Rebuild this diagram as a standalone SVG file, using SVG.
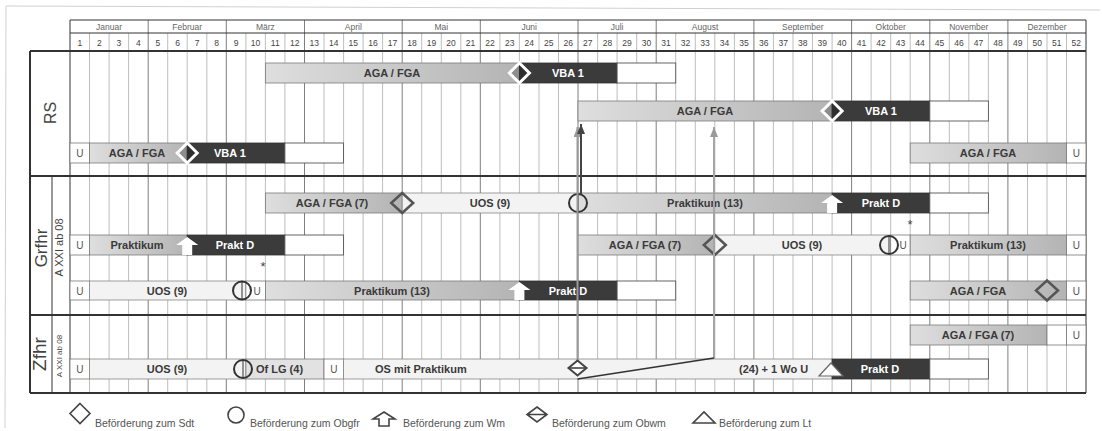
<svg xmlns="http://www.w3.org/2000/svg" width="1102" height="431" viewBox="0 0 1102 431">
<style>
text{font-family:"Liberation Sans",Arial,sans-serif}
.mo{font-size:8.5px;fill:#666;text-anchor:middle}
.wk{font-size:8.5px;fill:#444;text-anchor:middle}
.bt{font-size:11px;font-weight:bold;fill:#3a3a3a;text-anchor:middle}
.wt{font-size:11px;font-weight:bold;fill:#fff;text-anchor:middle}
.u{font-size:10px;fill:#555;text-anchor:middle}
.ast{font-size:13px;fill:#444;text-anchor:middle}
.lg{font-size:10.5px;fill:#555}
.sec{fill:#444;text-anchor:middle}
.lb{fill:url(#gl);stroke:#7a7a7a;stroke-width:.8}
.db{fill:#3b3b3b;stroke:#333;stroke-width:.8}
.wb{fill:#fff;stroke:#555;stroke-width:.9}
.vb{fill:#f3f3f3;stroke:#888;stroke-width:.8}
.ub{fill:#fff;stroke:#777;stroke-width:.8}
.grid{stroke:#a2a2a2;stroke-width:.7;fill:none}
.mgrid{stroke:#707070;stroke-width:.9;fill:none}
.frame{stroke:#333;fill:none}
.dw{fill:rgba(0,0,0,.22);stroke:#fff;stroke-width:3}
.dd{fill:none;stroke:#555;stroke-width:2.5}
.ci{fill:none;stroke:#333;stroke-width:2}
.upw{fill:#fff}
.icon{fill:#fff;stroke:#444;stroke-width:1.6}
</style>
<defs>
<linearGradient id="gl" x1="0" y1="0" x2="1" y2="0">
<stop offset="0" stop-color="#dedede"/>
<stop offset="1" stop-color="#b4b4b4"/>
</linearGradient>
<path id="dia" d="M0,-10 L10,0 L0,10 L-10,0 Z"/>
<path id="dia2" d="M0,-10 L11,0 L0,10 L-11,0 Z"/>
<g id="circ"><circle r="9" class="ci"/><path d="M0,-9 V9" stroke="#333" stroke-width="1"/></g>
<polygon id="up" points="0,2 11,10 5,10 5,20 -5,20 -5,10 -11,10"/>
<marker id="ag" viewBox="0 0 10 8" refX="10" refY="4" markerWidth="10" markerHeight="8" orient="auto" markerUnits="userSpaceOnUse"><path d="M0,0 L10,4 L0,8 z" fill="#9a9a9a"/></marker>
<marker id="ad" viewBox="0 0 10 8" refX="10" refY="4" markerWidth="10" markerHeight="8" orient="auto" markerUnits="userSpaceOnUse"><path d="M0,0 L10,4 L0,8 z" fill="#444"/></marker>
</defs>
<rect width="1102" height="431" fill="#fff"/>
<path d="M1100,10 L6,6 L5,428" stroke="#d0d0d0" stroke-width="1" fill="none"/>

<g id="grid">
<path class="grid" d="M89.5,33V393M109.1,33V393M128.6,33V393M167.7,33V393M187.2,33V393M206.8,33V393M245.9,33V393M265.4,33V393M284.9,33V393M324,33V393M343.6,33V393M363.1,33V393M382.6,33V393M421.7,33V393M441.3,33V393M460.8,33V393M499.9,33V393M519.4,33V393M539,33V393M558.5,33V393M597.6,33V393M617.1,33V393M636.7,33V393M675.7,33V393M695.3,33V393M714.8,33V393M734.4,33V393M773.4,33V393M793,33V393M812.5,33V393M832.1,33V393M871.1,33V393M890.7,33V393M910.2,33V393M949.3,33V393M968.8,33V393M988.4,33V393M1027.5,33V393M1047,33V393M1066.5,33V393"/>
<path class="mgrid" d="M148.2,20V393M226.3,20V393M304.5,20V393M402.2,20V393M480.3,20V393M578,20V393M656.2,20V393M753.9,20V393M851.6,20V393M929.8,20V393M1007.9,20V393"/>
<path class="frame" stroke-width="1" d="M70,20H1086M70,33H1086M70,20V393M1086,20V393M52,176V393"/>
<path class="frame" stroke-width="2" d="M30,51H1086M30,176H1086M30,315H1086M30,393H1086M30,51V393"/>
</g>

<g id="header">
<text class="mo" x="109.1" y="29.5">Januar</text>
<text class="mo" x="187.2" y="29.5">Februar</text>
<text class="mo" x="265.4" y="29.5">März</text>
<text class="mo" x="353.3" y="29.5">April</text>
<text class="mo" x="441.3" y="29.5">Mai</text>
<text class="mo" x="529.2" y="29.5">Juni</text>
<text class="mo" x="617.1" y="29.5">Juli</text>
<text class="mo" x="705.1" y="29.5">August</text>
<text class="mo" x="802.8" y="29.5">September</text>
<text class="mo" x="890.7" y="29.5">Oktober</text>
<text class="mo" x="968.8" y="29.5">November</text>
<text class="mo" x="1047" y="29.5">Dezember</text>
<g class="wk">
<text x="79.8" y="45.5">1</text><text x="99.3" y="45.5">2</text><text x="118.8" y="45.5">3</text><text x="138.4" y="45.5">4</text>
<text x="157.9" y="45.5">5</text><text x="177.5" y="45.5">6</text><text x="197" y="45.5">7</text><text x="216.6" y="45.5">8</text>
<text x="236.1" y="45.5">9</text><text x="255.6" y="45.5">10</text><text x="275.2" y="45.5">11</text><text x="294.7" y="45.5">12</text>
<text x="314.3" y="45.5">13</text><text x="333.8" y="45.5">14</text><text x="353.3" y="45.5">15</text><text x="372.9" y="45.5">16</text>
<text x="392.4" y="45.5">17</text><text x="412" y="45.5">18</text><text x="431.5" y="45.5">19</text><text x="451" y="45.5">20</text>
<text x="470.6" y="45.5">21</text><text x="490.1" y="45.5">22</text><text x="509.7" y="45.5">23</text><text x="529.2" y="45.5">24</text>
<text x="548.7" y="45.5">25</text><text x="568.3" y="45.5">26</text><text x="587.8" y="45.5">27</text><text x="607.4" y="45.5">28</text>
<text x="626.9" y="45.5">29</text><text x="646.4" y="45.5">30</text><text x="666" y="45.5">31</text><text x="685.5" y="45.5">32</text>
<text x="705.1" y="45.5">33</text><text x="724.6" y="45.5">34</text><text x="744.1" y="45.5">35</text><text x="763.7" y="45.5">36</text>
<text x="783.2" y="45.5">37</text><text x="802.7" y="45.5">38</text><text x="822.3" y="45.5">39</text><text x="841.8" y="45.5">40</text>
<text x="861.4" y="45.5">41</text><text x="880.9" y="45.5">42</text><text x="900.4" y="45.5">43</text><text x="920" y="45.5">44</text>
<text x="939.5" y="45.5">45</text><text x="959.1" y="45.5">46</text><text x="978.6" y="45.5">47</text><text x="998.1" y="45.5">48</text>
<text x="1017.7" y="45.5">49</text><text x="1037.2" y="45.5">50</text><text x="1056.8" y="45.5">51</text><text x="1076.3" y="45.5">52</text>
</g>
</g>

<g id="rs">
<text class="sec" font-size="16" transform="translate(56,113) rotate(-90)">RS</text>
<rect class="lb" x="265.4" y="63" width="254" height="20"/>
<rect class="db" x="519.4" y="63" width="97.7" height="20"/>
<rect class="wb" x="617.1" y="63" width="58.6" height="20"/>
<use href="#dia" x="519.4" y="73" class="dw"/>
<text class="bt" x="392" y="77">AGA / FGA</text>
<text class="wt" x="568" y="77">VBA 1</text>

<rect class="lb" x="578" y="101" width="254" height="20"/>
<rect class="db" x="832.1" y="101" width="97.7" height="20"/>
<rect class="wb" x="929.8" y="101" width="58.6" height="20"/>
<use href="#dia" x="832.1" y="111" class="dw"/>
<text class="bt" x="705" y="115">AGA / FGA</text>
<text class="wt" x="881" y="115">VBA 1</text>

<rect class="ub" x="70" y="143" width="19.5" height="20"/>
<text class="u" x="79.8" y="157">U</text>
<rect class="lb" x="89.5" y="143" width="97.7" height="20"/>
<rect class="db" x="187.2" y="143" width="97.7" height="20"/>
<rect class="wb" x="284.9" y="143" width="58.6" height="20"/>
<use href="#dia" x="187.2" y="153" class="dw"/>
<text class="bt" x="137" y="157">AGA / FGA</text>
<text class="wt" x="230" y="157">VBA 1</text>
<rect class="lb" x="910.2" y="143" width="156.3" height="20"/>
<text class="bt" x="988" y="157">AGA / FGA</text>
<rect class="ub" x="1066.5" y="143" width="19.5" height="20"/>
<text class="u" x="1076.3" y="157">U</text>
</g>

<g id="grfhr">
<text class="sec" font-size="17" transform="translate(47,248) rotate(-90)">Grfhr</text>
<text class="sec" font-size="11" transform="translate(63,247.5) rotate(-90)">A XXI ab 08</text>

<rect class="lb" x="265.4" y="193" width="136.8" height="20"/>
<rect class="vb" x="402.2" y="193" width="175.8" height="20"/>
<rect class="lb" x="578" y="193" width="254.1" height="20"/>
<rect class="db" x="832.1" y="193" width="97.7" height="20"/>
<rect class="wb" x="929.8" y="193" width="58.6" height="20"/>
<use href="#dia2" x="402.2" y="203" class="dd"/>
<use href="#circ" x="578" y="203"/>
<use href="#up" x="832.1" y="193" class="upw"/>
<text class="bt" x="332" y="207">AGA / FGA (7)</text>
<text class="bt" x="490" y="207">UOS (9)</text>
<text class="bt" x="705" y="207">Praktikum (13)</text>
<text class="wt" x="881" y="207">Prakt D</text>
<text class="ast" x="910" y="229">*</text>

<rect class="ub" x="70" y="235" width="19.5" height="20"/>
<text class="u" x="79.8" y="249">U</text>
<rect class="lb" x="89.5" y="235" width="97.7" height="20"/>
<rect class="db" x="187.2" y="235" width="97.7" height="20"/>
<rect class="wb" x="284.9" y="235" width="58.6" height="20"/>
<use href="#up" x="187.2" y="235" class="upw"/>
<text class="bt" x="137" y="249">Praktikum</text>
<text class="wt" x="235" y="249">Prakt D</text>
<text class="ast" x="263" y="271">*</text>
<rect class="lb" x="578" y="235" width="136.8" height="20"/>
<rect class="vb" x="714.8" y="235" width="175.9" height="20"/>
<rect class="ub" x="890.7" y="235" width="19.5" height="20"/>
<rect class="lb" x="910.2" y="235" width="156.3" height="20"/>
<rect class="ub" x="1066.5" y="235" width="19.5" height="20"/>
<use href="#dia2" x="714.8" y="245" class="dd"/>
<use href="#circ" x="889" y="245"/>
<text class="bt" x="645" y="249">AGA / FGA (7)</text>
<text class="bt" x="802" y="249">UOS (9)</text>
<text class="u" x="903" y="249">U</text>
<text class="bt" x="988" y="249">Praktikum (13)</text>
<text class="u" x="1076.3" y="249">U</text>

<rect class="ub" x="70" y="281" width="19.5" height="19"/>
<text class="u" x="79.8" y="294.5">U</text>
<rect class="vb" x="89.5" y="281" width="156.4" height="19"/>
<rect class="ub" x="245.9" y="281" width="19.5" height="19"/>
<rect class="lb" x="265.4" y="281" width="254" height="19"/>
<rect class="db" x="519.4" y="281" width="97.7" height="19"/>
<rect class="wb" x="617.1" y="281" width="58.6" height="19"/>
<use href="#circ" x="242" y="290.5"/>
<use href="#up" x="519.4" y="280" class="upw"/>
<text class="bt" x="167" y="294.5">UOS (9)</text>
<text class="u" x="257" y="294.5">U</text>
<text class="bt" x="392" y="294.5">Praktikum (13)</text>
<text class="wt" x="568" y="294.5">Prakt D</text>
<rect class="lb" x="910.2" y="281" width="156.3" height="19"/>
<rect class="ub" x="1066.5" y="281" width="19.5" height="19"/>
<use href="#dia2" x="1047" y="290.5" class="dd"/>
<text class="bt" x="978" y="294.5">AGA / FGA</text>
<text class="u" x="1076.3" y="294.5">U</text>
</g>

<g id="zfhr">
<text class="sec" font-size="19" transform="translate(46,354) rotate(-90)">Zfhr</text>
<text class="sec" font-size="8" transform="translate(61.5,356) rotate(-90)">A XXI ab 08</text>

<rect class="lb" x="910.2" y="325" width="136.8" height="20"/>
<rect class="ub" x="1047" y="325" width="19.5" height="20"/>
<rect class="ub" x="1066.5" y="325" width="19.5" height="20"/>
<text class="bt" x="978" y="339">AGA / FGA (7)</text>
<text class="u" x="1076.3" y="339">U</text>

<rect class="ub" x="70" y="359" width="19.5" height="20"/>
<text class="u" x="79.8" y="373">U</text>
<rect class="vb" x="89.5" y="359" width="156.4" height="20"/>
<rect class="lb" x="245.9" y="359" width="78.1" height="20" style="fill:#e2e2e2"/>
<rect class="ub" x="324" y="359" width="19.6" height="20"/>
<rect class="vb" x="343.6" y="359" width="488.5" height="20"/>
<rect class="db" x="832.1" y="359" width="97.7" height="20"/>
<rect class="wb" x="929.8" y="359" width="58.6" height="20"/>
<use href="#circ" x="243" y="369"/>
<text class="bt" x="167" y="373">UOS (9)</text>
<text class="bt" x="256" y="373" style="text-anchor:start">Of LG (4)</text>
<text class="u" x="333.8" y="373">U</text>
<text class="bt" x="375" y="373" style="text-anchor:start">OS mit Praktikum</text>
<text class="bt" x="739" y="373" style="text-anchor:start">(24) + 1 Wo U</text>
<text class="wt" x="880" y="373">Prakt D</text>
<polygon points="819,376 843,376 831,363" fill="#fff" stroke="#666" stroke-width="1.2"/>
</g>

<g id="connectors" fill="none">
<path d="M577.5,361 V127" stroke="#9a9a9a" stroke-width="2" marker-end="url(#ag)"/>
<path d="M714,358 V127" stroke="#a5a5a5" stroke-width="2" marker-end="url(#ag)"/>
<path d="M581,194 V124" stroke="#444" stroke-width="2" marker-end="url(#ad)"/>
<path d="M577.5,379 L714,358" stroke="#333" stroke-width="1.6"/>
<g transform="translate(577.5,368)">
<path d="M0,-7.5 L9,0 L0,7.5 L-9,0 Z" fill="#fff" stroke="#444" stroke-width="2"/>
<path d="M-9,0 H9" stroke="#444" stroke-width="1.6"/>
</g>
</g>

<g id="legend">
<path class="icon" d="M80,403.5 L90,413.5 L80,423.5 L70,413.5 Z"/>
<text class="lg" x="95" y="427">Beförderung zum Sdt</text>
<circle class="icon" cx="236" cy="415" r="8"/>
<text class="lg" x="250" y="427">Beförderung zum Obgfr</text>
<polygon class="icon" points="384,412 395,419 389,419 389,426 379,426 379,419 373,419"/>
<text class="lg" x="403" y="427">Beförderung zum Wm</text>
<path class="icon" stroke-width="2" d="M537,407 L547,414.5 L537,422 L527,414.5 Z M527,414.5 H547"/>
<text class="lg" x="552" y="427">Beförderung zum Obwm</text>
<polygon class="icon" points="693,423 715,423 704,412"/>
<text class="lg" x="719" y="427">Beförderung zum Lt</text>
</g>
</svg>
